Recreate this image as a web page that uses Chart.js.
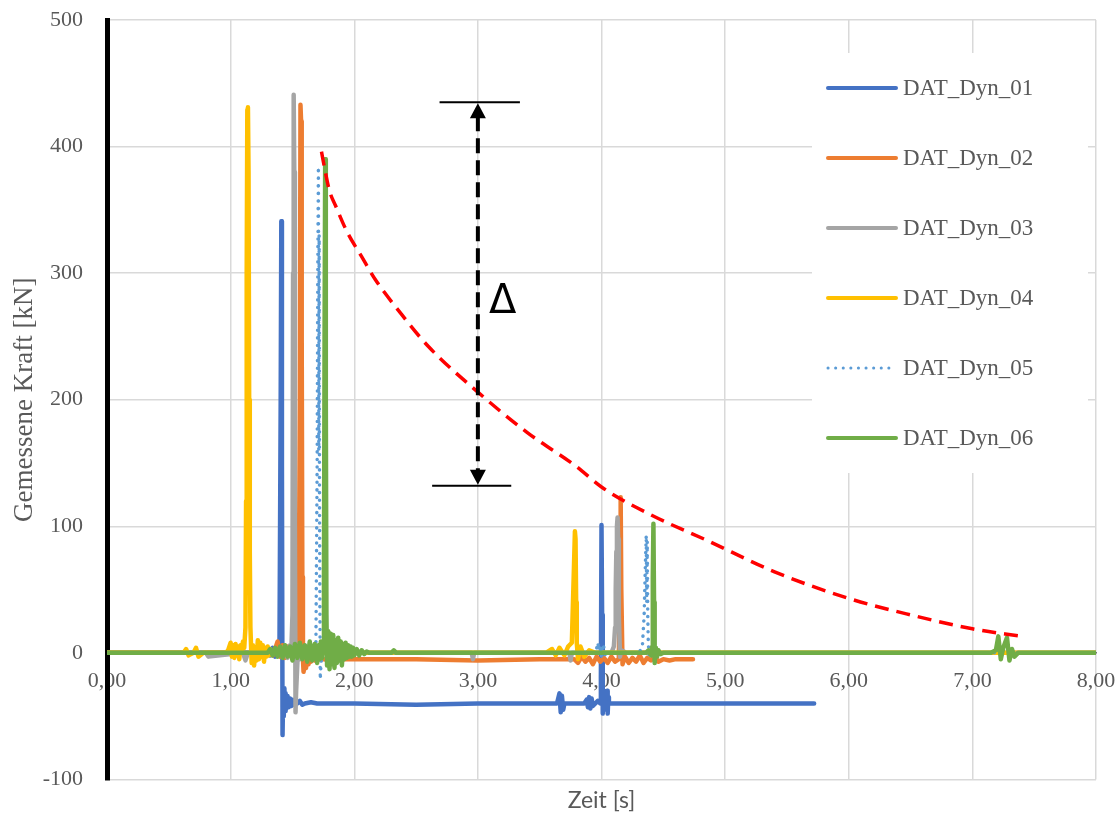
<!DOCTYPE html>
<html>
<head>
<meta charset="utf-8">
<script src="https://cdn.jsdelivr.net/npm/chart.js@4.4.1/dist/chart.umd.min.js"></script>
<style>
  body { margin: 0; background: #fff; }
  canvas { display: block; }
</style>
</head>
<body>
<canvas id="grafico" width="1120" height="814"></canvas>
<script>
// Werte (Zeit [s] / Kraft [kN])
const namen = ["DAT_Dyn_01", "DAT_Dyn_02", "DAT_Dyn_03", "DAT_Dyn_04", "DAT_Dyn_05", "DAT_Dyn_06"];
const farben = ["#4472C4", "#ED7D31", "#A5A5A5", "#FFC000", "#5B9BD5", "#70AD47"];

const t01 = [0, 1.28, 1.30, 1.32, 1.34, 1.36, 1.38, 1.395, 1.405, 1.41, 1.415, 1.42, 1.425, 1.43, 1.435, 1.44, 1.445, 1.45, 1.46, 1.47, 1.48, 1.49, 1.50, 1.51, 1.52, 1.54, 1.56, 1.58, 1.60, 1.65, 1.70, 2.00, 2.50, 3.00, 3.50, 3.64, 3.66, 3.67, 3.68, 3.69, 3.70, 3.72, 3.86, 3.88, 3.89, 3.90, 3.91, 3.92, 3.93, 3.95, 3.97, 3.99, 3.995, 4.00, 4.005, 4.01, 4.015, 4.02, 4.03, 4.04, 4.045, 4.05, 4.055, 4.06, 4.08, 4.10, 4.50, 5.00, 5.72];
const f01 = [0, 0, 3, -2, 4, -3, 2, 0, 200, 341, 150, -65, -30, -50, -28, -46, -32, -44, -34, -43, -36, -42, -37, -41, -39, -40, -38, -41, -40, -39, -40, -40, -41, -40, -40, -40, -32, -47, -34, -45, -40, -40, -40, -37, -43, -35, -44, -36, -42, -40, -38, -40, -20, 101, 30, -48, -30, -45, -38, -42, -30, -48, -35, -40, -40, -40, -40, -40, -40];

const t02 = [0, 1.30, 1.32, 1.34, 1.36, 1.38, 1.40, 1.42, 1.44, 1.46, 1.48, 1.50, 1.52, 1.54, 1.55, 1.56, 1.565, 1.57, 1.575, 1.58, 1.585, 1.59, 1.60, 1.61, 1.62, 1.63, 1.64, 1.65, 1.66, 1.68, 1.70, 1.75, 1.80, 1.90, 2.00, 2.50, 3.00, 3.50, 3.78, 3.81, 3.84, 3.87, 3.90, 3.93, 3.96, 3.99, 4.02, 4.05, 4.08, 4.11, 4.14, 4.15, 4.155, 4.16, 4.17, 4.19, 4.22, 4.25, 4.28, 4.31, 4.34, 4.37, 4.40, 4.43, 4.46, 4.50, 4.55, 4.60, 4.74];
const f02 = [0, 0, 2, -2, 3, 9, -3, 6, -4, 5, -2, 7, -3, 4, 8, 200, 433, 420, 250, 60, -5, -15, -8, -12, -3, -9, -4, -7, -3, -6, -5, -5, -6, -5, -5, -5, -6, -5, -5, -8, -3, -7, -4, -9, -3, -7, -4, -8, -3, -7, -5, 60, 123, 50, -9, -3, -8, -4, -7, -2, -8, -4, -6, -3, -7, -5, -6, -5, -5];

const t03 = [0, 0.80, 0.82, 1.10, 1.12, 1.14, 1.40, 1.44, 1.46, 1.48, 1.49, 1.50, 1.505, 1.51, 1.515, 1.52, 1.525, 1.53, 1.54, 1.55, 1.56, 1.58, 1.60, 1.62, 1.64, 2.00, 2.50, 2.95, 2.96, 2.97, 3.50, 3.74, 3.75, 3.76, 4.00, 4.08, 4.10, 4.11, 4.115, 4.12, 4.125, 4.13, 4.135, 4.14, 4.15, 4.16, 4.20, 5.00, 6.00, 7.00, 8.00];
const f03 = [0, 0, -3, 0, -6, 0, 0, 5, -4, 6, -2, 30, 300, 441, 380, 100, -47, -30, -8, 6, -5, 4, -3, 2, 0, 0, 0, 0, -5, 0, 0, 0, -6, 0, 0, 0, 5, 20, 50, 80, 100, 107, 90, 30, -3, 2, 0, 0, 0, 0, 0];

const t04 = [0, 0.62, 0.64, 0.66, 0.70, 0.72, 0.74, 0.78, 0.96, 0.98, 1.00, 1.01, 1.02, 1.03, 1.04, 1.05, 1.06, 1.07, 1.08, 1.09, 1.10, 1.11, 1.12, 1.125, 1.13, 1.135, 1.14, 1.145, 1.15, 1.155, 1.16, 1.17, 1.18, 1.19, 1.20, 1.21, 1.22, 1.23, 1.24, 1.25, 1.26, 1.27, 1.28, 1.29, 1.30, 1.31, 1.32, 1.33, 1.35, 2.00, 3.00, 3.55, 3.60, 3.63, 3.66, 3.70, 3.73, 3.76, 3.775, 3.785, 3.79, 3.795, 3.80, 3.81, 3.83, 3.86, 3.90, 3.95, 4.00, 5.00, 6.00, 7.00, 8.00];
const f04 = [0, 0, 3, -2, 0, 4, -3, 0, 0, 2, 8, -3, 6, -4, 7, -2, 5, -5, 6, 2, 9, 4, 20, 120, 300, 429, 431, 380, 200, 80, 20, -8, 6, -10, 4, -6, 10, -5, 8, -3, 6, -7, 4, -3, 5, -2, 3, -1, 0, 0, 0, 0, 3, -2, 4, -2, 5, 8, 60, 96, 90, 40, 8, -5, 5, -3, 2, 0, 0, 0, 0, 0, 0];

const t05 = [0, 1.44, 1.46, 1.48, 1.50, 1.52, 1.54, 1.56, 1.58, 1.60, 1.62, 1.64, 1.66, 1.68, 1.69, 1.70, 1.705, 1.71, 1.713, 1.716, 1.719, 1.722, 1.725, 1.73, 1.74, 1.76, 1.78, 1.80, 2.00, 3.00, 3.94, 3.96, 3.97, 3.98, 3.99, 4.00, 4.01, 4.02, 4.03, 4.05, 4.30, 4.33, 4.345, 4.355, 4.362, 4.366, 4.370, 4.374, 4.378, 4.385, 4.40, 5.00, 6.00, 7.00, 8.00];
const f05 = [0, 0, 3, -2, 5, -3, 6, 8, -2, 7, 4, -3, 6, 9, 8, 150, 300, 384, 160, 330, 120, 40, -21, -10, 3, -2, 1, 0, 0, 0, 0, 3, 8, 2, 6, -3, 7, 4, -2, 0, 0, 4, 30, 70, 93, 40, 88, 30, 10, -3, 0, 0, 0, 0, 0];

const t06 = [0, 1.30, 1.32, 1.34, 1.36, 1.38, 1.40, 1.42, 1.44, 1.46, 1.48, 1.50, 1.52, 1.54, 1.56, 1.58, 1.60, 1.62, 1.64, 1.66, 1.68, 1.70, 1.71, 1.72, 1.73, 1.74, 1.75, 1.755, 1.76, 1.765, 1.77, 1.775, 1.78, 1.79, 1.80, 1.81, 1.82, 1.83, 1.84, 1.85, 1.86, 1.87, 1.88, 1.89, 1.90, 1.91, 1.92, 1.93, 1.94, 1.95, 1.96, 1.97, 1.98, 1.99, 2.00, 2.02, 2.04, 2.06, 2.08, 2.10, 2.12, 2.15, 2.30, 2.32, 2.34, 3.00, 4.00, 4.36, 4.38, 4.40, 4.41, 4.415, 4.42, 4.425, 4.43, 4.44, 4.45, 4.46, 4.48, 4.50, 5.00, 6.00, 7.15, 7.19, 7.21, 7.23, 7.25, 7.28, 7.30, 7.32, 7.34, 7.37, 8.00];
const f06 = [0, 0, 3, -2, 4, -3, 5, -4, 6, -3, 5, -6, 7, -4, 8, -5, 6, -7, 9, -6, 7, -8, 6, -5, 9, -4, 8, 60, 250, 390, 200, 30, -10, 17, -13, 15, -9, 14, -12, 10, -8, 12, -6, 9, -10, 7, -5, 8, -4, 6, -3, 5, -3, 4, -2, 3, -2, 2, -1, 1, 0, 0, 0, 2, 0, 0, 0, 0, 2, -2, 5, 60, 102, 40, -8, 4, -3, 2, -1, 0, 0, 0, 0, 2, 13, -5, 4, 12, -6, 3, -3, 0, 0];

// Abklingkurve (rot gestrichelt)
const tKurve = [1.735, 1.76, 1.80, 1.85, 1.94, 2.06, 2.17, 2.37, 2.60, 3.00, 3.40, 3.80, 4.00, 4.40, 4.85, 5.40, 6.00, 6.50, 7.00, 7.40];
const fKurve = [396, 383, 365, 353, 333, 313, 295, 269, 242, 206, 174, 147, 131, 109, 89, 64, 43, 30, 19, 13];

// Delta-Pfeil
const deltaZeit = 3.0;
const deltaOben = 435;
const deltaUnten = 132;
const kappeOben = [2.69, 3.34];
const kappeUnten = [2.63, 3.27];
const deltaText = "\u0394";
const deltaPos = [3.2, 277];

const zeiten = [t01, t02, t03, t04, t05, t06];
const kraefte = [f01, f02, f03, f04, f05, f06];

function punkte(xs, ys) {
  return xs.map((x, i) => ({ x: x, y: ys[i] }));
}

const grau = "#595959";
const serif = '"Liberation Serif", "Times New Roman", serif';

const datasets = namen.map((nome, i) => ({
  label: nome,
  data: punkte(zeiten[i], kraefte[i]),
  borderColor: farben[i],
  borderWidth: i === 4 ? 3.5 : 4.5,
  borderDash: i === 4 ? [0.1, 7.5] : [],
  borderCapStyle: "round",
  borderJoinStyle: "round",
  pointRadius: 0,
  tension: 0,
  order: 6 - i
}));

datasets.push({
  label: "Kurve",
  data: punkte(tKurve, fKurve),
  borderColor: "#FF0000",
  borderWidth: 3.5,
  borderDash: [14, 8],
  pointRadius: 0,
  cubicInterpolationMode: "monotone",
  order: 0
});

// Legende und Delta-Pfeil
const extras = {
  id: "extras",
  beforeDatasetsDraw(chart) {
    const ctx = chart.ctx;
    ctx.save();
    ctx.fillStyle = "#fff";
    ctx.fillRect(812, 53, 276, 420);
    ctx.restore();
  },
  afterDatasetsDraw(chart) {
    const ctx = chart.ctx;
    const x = chart.scales.x;
    const y = chart.scales.y;
    ctx.save();

    // Pfeil
    const px = x.getPixelForValue(deltaZeit);
    const yTop = y.getPixelForValue(deltaOben);
    const yBot = y.getPixelForValue(deltaUnten);
    ctx.strokeStyle = "#000";
    ctx.lineWidth = 2;
    ctx.beginPath();
    ctx.moveTo(x.getPixelForValue(kappeOben[0]), yTop);
    ctx.lineTo(x.getPixelForValue(kappeOben[1]), yTop);
    ctx.moveTo(x.getPixelForValue(kappeUnten[0]), yBot);
    ctx.lineTo(x.getPixelForValue(kappeUnten[1]), yBot);
    ctx.stroke();

    ctx.lineWidth = 4;
    ctx.setLineDash([15, 7]);
    ctx.beginPath();
    ctx.moveTo(px, yTop + 14);
    ctx.lineTo(px, yBot - 14);
    ctx.stroke();
    ctx.setLineDash([]);

    ctx.fillStyle = "#000";
    ctx.beginPath();
    ctx.moveTo(px, yTop + 1);
    ctx.lineTo(px - 8, yTop + 16);
    ctx.lineTo(px + 8, yTop + 16);
    ctx.closePath();
    ctx.fill();
    ctx.beginPath();
    ctx.moveTo(px, yBot - 1);
    ctx.lineTo(px - 8, yBot - 16);
    ctx.lineTo(px + 8, yBot - 16);
    ctx.closePath();
    ctx.fill();

    ctx.font = '40px "DejaVu Sans"';
    ctx.textAlign = "center";
    ctx.textBaseline = "middle";
    ctx.fillText(deltaText, x.getPixelForValue(deltaPos[0]), y.getPixelForValue(deltaPos[1]));

    // Legende
    ctx.font = "23px " + serif;
    ctx.textAlign = "left";
    ctx.textBaseline = "middle";
    chart.data.datasets.slice(0, 6).forEach((ds, i) => {
      const ly = 88 + i * 70;
      ctx.strokeStyle = ds.borderColor;
      ctx.lineWidth = i === 4 ? 3 : 4;
      ctx.lineCap = "round";
      ctx.setLineDash(ds.borderDash);
      ctx.beginPath();
      ctx.moveTo(828, ly);
      ctx.lineTo(896, ly);
      ctx.stroke();
      ctx.setLineDash([]);
      ctx.fillStyle = grau;
      ctx.fillText(ds.label, 903, ly + 1);
    });
    ctx.restore();
  }
};

// Achsen ohne zusaetzlichen Rand, damit die Zeichenflaeche fest bleibt
function ohneRand(s) {
  s.paddingLeft = 0;
  s.paddingRight = 0;
  s.paddingTop = 0;
  s.paddingBottom = 0;
}

new Chart(document.getElementById("grafico"), {
  type: "line",
  data: { datasets: datasets },
  plugins: [extras],
  options: {
    responsive: false,
    animation: false,
    events: [],
    layout: { padding: { left: 0, top: 20, right: 24, bottom: 0 } },
    plugins: {
      legend: { display: false },
      tooltip: { enabled: false },
      title: {
        display: true,
        text: "Zeit [s]",
        position: "bottom",
        fullSize: false,
        color: grau,
        font: { family: "Lato", size: 23, weight: "normal" },
        padding: { top: 7, bottom: 0 }
      }
    },
    scales: {
      x: {
        type: "linear",
        position: { y: 0 },
        min: 0,
        max: 8,
        ticks: {
          stepSize: 1,
          color: grau,
          font: { family: serif, size: 22 },
          padding: 15,
          maxRotation: 0,
          callback: v => v.toFixed(2).replace(".", ",")
        },
        grid: { color: "#D9D9D9", lineWidth: 1.5, drawTicks: false },
        border: { color: "#000", width: 1.5 },
        afterFit: ohneRand
      },
      y: {
        min: -100,
        max: 500,
        ticks: {
          stepSize: 100,
          color: grau,
          font: { family: serif, size: 22 },
          padding: 24
        },
        grid: { color: "#D9D9D9", lineWidth: 1.5, drawTicks: false },
        border: { color: "#000", width: 5 },
        title: {
          display: true,
          text: "Gemessene Kraft [kN]",
          color: grau,
          font: { family: serif, size: 27 },
          padding: { top: 9, bottom: 0 }
        },
        afterFit: s => { ohneRand(s); s.width = 107; }
      }
    }
  }
});
</script>
</body>
</html>
